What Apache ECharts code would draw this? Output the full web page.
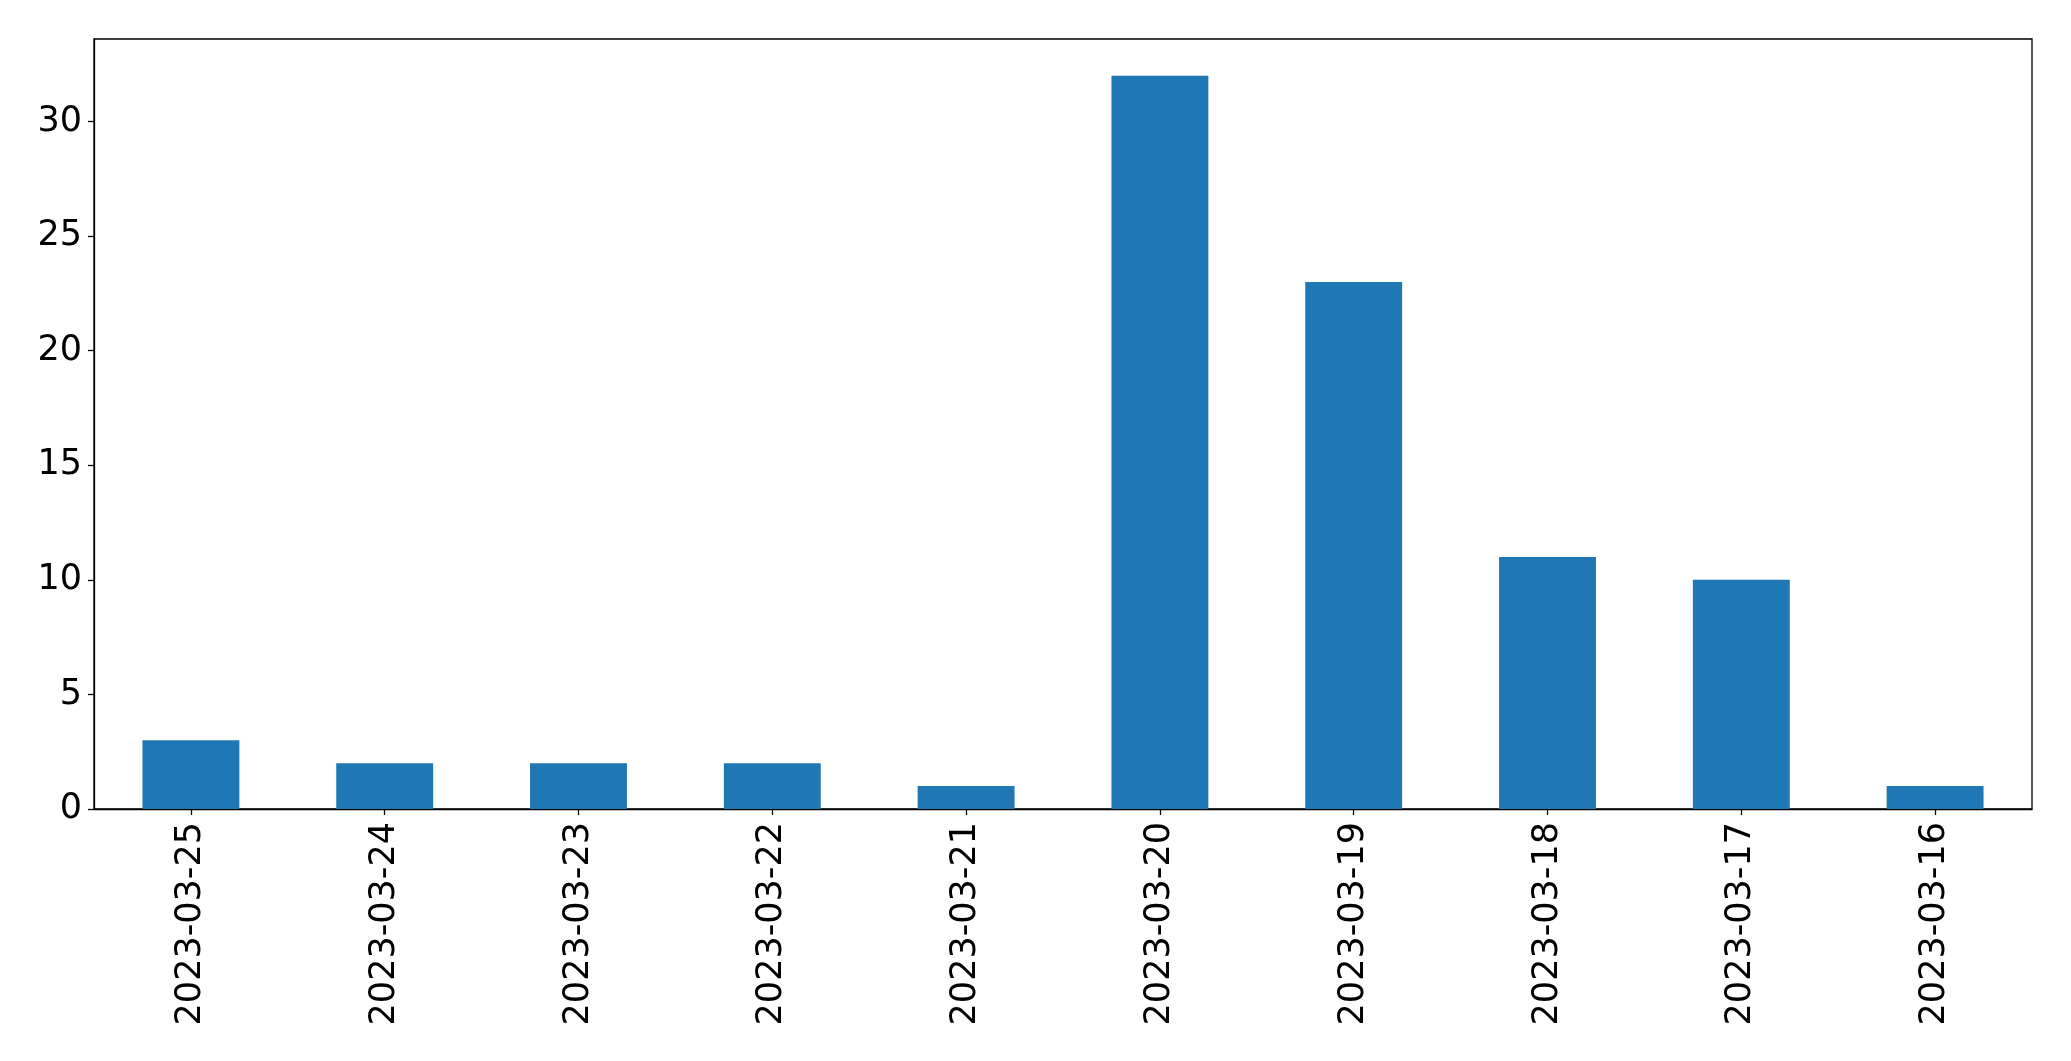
<!DOCTYPE html>
<html>
<head>
<meta charset="utf-8">
<script src="https://cdn.jsdelivr.net/npm/echarts@6/dist/echarts.min.js"></script>
<style>
html,body{margin:0;padding:0;background:#fff;}
#chart{width:2071px;height:1061px;}
</style>
</head>
<body>
<div id="chart"></div>
<script>
const categories = ["2023-03-25","2023-03-24","2023-03-23","2023-03-22","2023-03-21","2023-03-20","2023-03-19","2023-03-18","2023-03-17","2023-03-16"];
const counts = [3, 2, 2, 2, 1, 32, 23, 11, 10, 1];
const yTicks = [0, 5, 10, 15, 20, 25, 30];

const chart = echarts.init(document.getElementById('chart'), null, {renderer: 'canvas'});
const font = "DejaVu Sans";
chart.setOption({
  animation: false,
  backgroundColor: '#fff',
  grid: {left: 94, right: 39, top: 39, bottom: 252, show: true, borderColor: '#000', borderWidth: 1.3, containLabel: false},
  xAxis: {
    type: 'category',
    data: categories,
    boundaryGap: true,
    axisLine: {show: true, lineStyle: {color: '#000', width: 1.3}},
    axisTick: {show: true, alignWithLabel: true, length: 6, lineStyle: {color: '#000', width: 1.3}},
    axisLabel: {rotate: 90, color: '#000', fontFamily: font, fontSize: 35, margin: 13, interval: 0},
    splitLine: {show: false}
  },
  yAxis: {
    type: 'value',
    min: 0,
    max: 33.6,
    interval: 5,
    axisLine: {show: true, lineStyle: {color: '#000', width: 1.3}},
    axisTick: {show: true, length: 6, lineStyle: {color: '#000', width: 1.3}, customValues: yTicks},
    axisLabel: {color: '#000', fontFamily: font, fontSize: 35, margin: 12, padding: [5, 0, 0, 0], customValues: yTicks},
    splitLine: {show: false}
  },
  series: [{
    type: 'bar',
    data: counts,
    barWidth: '50%',
    itemStyle: {color: '#1f77b4'}
  }]
});
</script>
</body>
</html>
